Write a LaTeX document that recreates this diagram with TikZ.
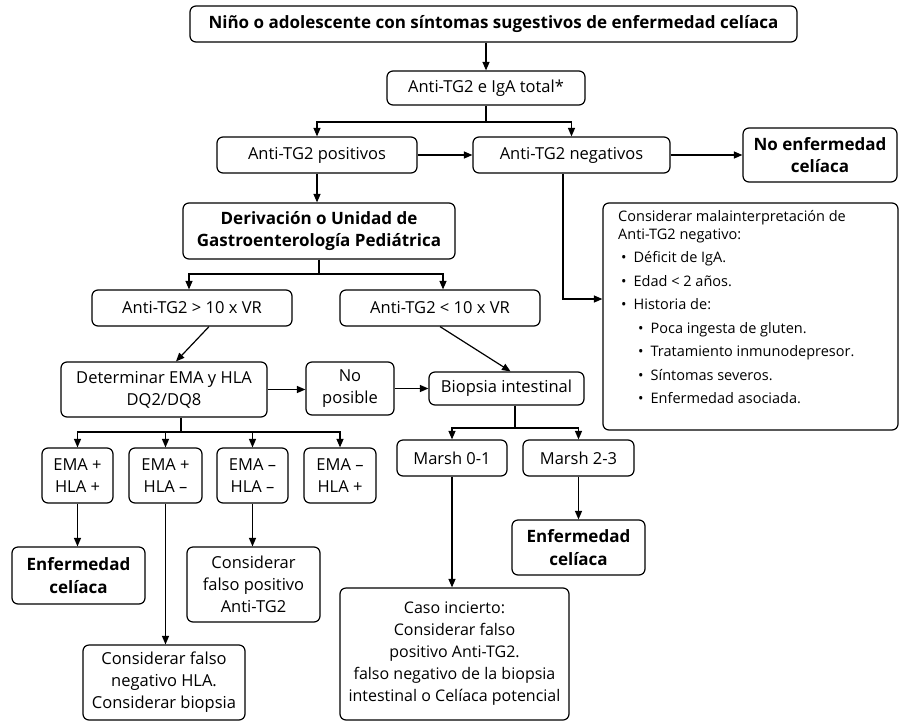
\documentclass[tikz,border=0pt]{standalone}
\usepackage{fontspec}
\setmainfont{Open Sans}
\usetikzlibrary{arrows.meta,calc}
\newcommand\cbulA{\hspace*{3pt}\textbullet\hspace{7pt}}
\newcommand\cbulB{\hspace*{20pt}\textbullet\hspace{7pt}}
\begin{document}
\begin{tikzpicture}[x=1pt,y=-1pt,
  box/.style={draw, line width=1.2pt, rounded corners=6pt, align=center, inner sep=0pt, font=\fontsize{16.5}{22}\selectfont},
  bbox/.style={box, font=\fontsize{17}{22.5}\selectfont\bfseries},
  wh/.style 2 args={minimum width=#1pt, minimum height=#2pt},
  arr/.style={line width=1.2pt, -{Triangle[length=8.5pt,width=7pt]}},
  ln/.style={line width=1.2pt}]
\useasboundingbox (0,0) rectangle (904,723);
\fill[white] (0,0) rectangle (904,723);

% nodes
\node[bbox, wh={607}{36}] (top) at (493.5,24) {Niño o adolescente con síntomas sugestivos de enfermedad celíaca};
\node[box, wh={198}{34}] (iga) at (486,88) {Anti-TG2 e IgA total*};
\node[box, wh={200}{36}] (pos) at (317,155) {Anti-TG2 positivos};
\node[box, wh={197}{36}] (neg) at (571.5,155) {Anti-TG2 negativos};
\node[bbox, wh={154}{54}] (noenf) at (820,155) {No enfermedad\\celíaca};
\node[bbox, wh={272}{56}] (deriv) at (319,231) {Derivación o Unidad de\\Gastroenterología Pediátrica};
\node[box, wh={200}{36}] (gt10) at (192,308) {Anti-TG2 > 10 x VR};
\node[box, wh={200}{36}] (lt10) at (440,308) {Anti-TG2 < 10 x VR};
\node[box, wh={206}{55}] (det) at (164,389.5) {Determinar EMA y HLA\\DQ2/DQ8};
\node[box, wh={88}{53}] (nopos) at (350,388.5) {No\\posible};
\node[box, wh={155}{33}] (biop) at (506.5,388.5) {Biopsia intestinal};
\node[box, wh={295}{227}] (consider) at (750.5,316.5) {};
\node[anchor=north west, align=left, inner sep=0pt, font=\fontsize{14.5}{18}\selectfont] (ctext) at (618,210)
 {Considerar malainterpretación de\\
  Anti-TG2 negativo:\\[5.5pt]
  \cbulA Déficit de IgA.\\[5.5pt]
  \cbulA Edad < 2 años.\\[5.5pt]
  \cbulA Historia de:\\[5.5pt]
  \cbulB Poca ingesta de gluten.\\[5.5pt]
  \cbulB Tratamiento inmunodepresor.\\[5.5pt]
  \cbulB Síntomas severos.\\[5.5pt]
  \cbulB Enfermedad asociada.};
\node[box, wh={71}{55}] (ema1) at (77.5,475.5) {EMA +\\HLA +};
\node[box, wh={73}{55}] (ema2) at (165.5,475.5) {EMA +\\HLA –};
\node[box, wh={71}{55}] (ema3) at (252.5,475.5) {EMA –\\HLA –};
\node[box, wh={72}{55}] (ema4) at (340,475.5) {EMA –\\HLA +};
\node[box, wh={110}{36}] (m01) at (452,458) {Marsh 0-1};
\node[box, wh={111}{36}] (m23) at (578.5,458) {Marsh 2-3};
\node[bbox, wh={133}{57}] (enf1) at (78.5,575.5) {Enfermedad\\celíaca};
\node[box, wh={133}{75}] (fpos) at (253.5,584.5) {Considerar\\falso positivo\\Anti-TG2};
\node[box, wh={162}{75}] (fneg) at (164,682.5) {Considerar falso\\negativo HLA.\\Considerar biopsia};
\node[bbox, wh={133}{55}] (enf2) at (578.5,547.5) {Enfermedad\\celíaca};
\node[box, wh={229}{132}, font=\fontsize{16}{22}\selectfont] (caso) at (454.5,654) {Caso incierto:\\Considerar falso\\positivo Anti-TG2.\\falso negativo de la biopsia\\intestinal o Celíaca potencial};

% connectors
\draw[arr] (top.south -| iga.north) -- (iga.north);
\coordinate (b1) at (iga.south |- 0,122);
\draw[ln] (iga.south) -- (b1);
\draw[arr] (b1) -| (pos.north);
\draw[arr] (b1) -| (neg.north);
\draw[arr] (pos.east) -- (neg.west);
\draw[arr] (neg.east) -- (noenf.west);
\draw[arr] (pos.south) -- (pos.south |- deriv.north);
\draw[arr] ([xshift=-8.5pt]neg.south) |- ([yshift=17.5pt]consider.west);

\coordinate (b2) at (deriv.south |- 0,274);
\draw[ln] (deriv.south) -- (b2);
\draw[arr] (b2) -| ([xshift=-3pt]gt10.north);
\draw[arr] (b2) -| ([xshift=3pt]lt10.north);
\draw[arr] ([xshift=17pt]gt10.south) -- ([xshift=12pt]det.north);
\draw[arr] (lt10.south) -- ([xshift=4pt]biop.north);
\draw[arr] (det.east) -- (det.east -| nopos.west);
\draw[arr] (nopos.east) -- (nopos.east -| biop.west);

\path ([xshift=17pt]det.south) coordinate (d3);
\coordinate (b3) at (d3 |- 0,432);
\draw[ln] (d3) -- (b3);
\draw[arr] (b3) -| (ema1.north);
\draw[arr] (b3) -| (ema2.north);
\draw[arr] (b3) -| (ema3.north);
\draw[arr] (b3) -| (ema4.north);

\path ([xshift=8.5pt]biop.south) coordinate (d4);
\coordinate (b4) at (d4 |- 0,428);
\draw[ln] (d4) -- (b4);
\draw[arr] (b4) -| (m01.north);
\draw[arr] (b4) -| (m23.north);

\draw[arr] (ema1.south) -- (ema1.south |- enf1.north);
\draw[arr] (ema2.south) -- (ema2.south |- fneg.north);
\draw[arr] (ema3.south) -- (ema3.south |- fpos.north);
\draw[arr] (m01.south) -- (m01.south |- caso.north);
\draw[arr] (m23.south) -- (m23.south |- enf2.north);
\end{tikzpicture}
\end{document}
